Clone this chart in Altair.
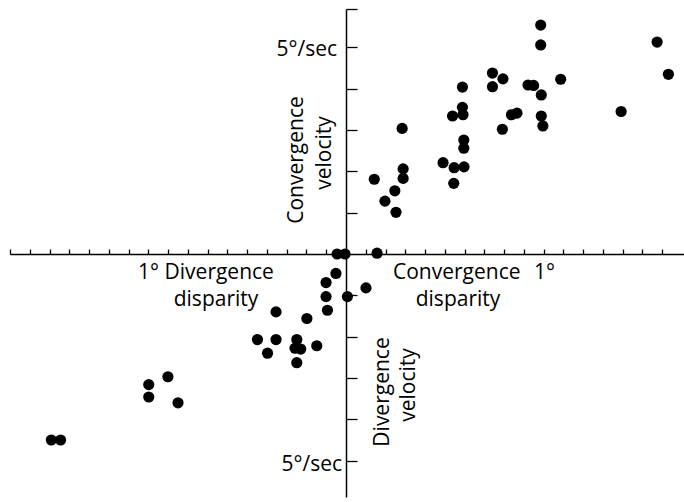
import altair as alt
import pandas as pd

# Disparity (degrees; + = convergence) and vergence velocity (deg/sec; + = convergence)
disparity = [
    0.985, 0.985, 1.574, 1.631, 0.741, 0.794, 1.086, 0.741, 0.589, 0.921,
    0.949, 0.988, 1.392, 0.837, 0.865, 0.589, 0.539, 0.592, 0.988, 0.996,
    0.791, 0.284, 0.596, 0.596, 0.491, 0.547, 0.597, 0.545, 0.289, 0.289,
    0.143, 0.247, 0.197, 0.253,
    -0.045, -0.005, 0.157,
    -0.051, -0.101, 0.101, -0.101, 0.007, -0.094, -0.354, -0.198, -0.448,
    -0.354, -0.249, -0.148, -0.397, -0.258, -0.229, -0.249, -0.901, -0.998,
    -0.998, -0.850, -1.491, -1.444,
]
velocity = [
    5.54, 5.06, 5.13, 4.35, 4.38, 4.24, 4.23, 4.05, 4.04, 4.09,
    4.08, 3.85, 3.45, 3.37, 3.41, 3.55, 3.34, 3.37, 3.34, 3.10,
    3.02, 3.04, 2.76, 2.56, 2.21, 2.09, 2.11, 1.71, 2.06, 1.83,
    1.81, 1.53, 1.28, 1.01,
    0.00, 0.00, 0.02,
    -0.47, -0.69, -0.82, -1.03, -1.03, -1.36, -1.40, -1.56, -2.07,
    -2.07, -2.07, -2.22, -2.40, -2.28, -2.30, -2.63, -2.97, -3.16,
    -3.46, -3.60, -4.50, -4.50,
]

x_ticks = [-1.7, -1.6, -1.5, -1.4, -1.3, -1.2, -1.1, -1.0, -0.9, -0.8, -0.7,
           -0.6, -0.5, -0.4, -0.3, -0.2, -0.1, 0.1, 0.2, 0.3, 0.4, 0.5, 0.6,
           0.7, 0.8, 0.9, 1.0, 1.1, 1.2, 1.3, 1.4, 1.5, 1.6]
y_ticks = [-5, -4, -3, -2, -1, 1, 2, 3, 4, 5, 5.93]

x_domain = [-1.70, 1.71]
y_domain = [-5.88, 5.93]

FONT = "Open Sans"
FS = 21

df = pd.DataFrame({"disparity": disparity, "velocity": velocity})

points = alt.Chart(df).mark_circle(size=125, color="black", opacity=1).encode(
    x=alt.X(
        "disparity:Q",
        scale=alt.Scale(domain=x_domain, nice=False, zero=False),
        axis=alt.Axis(orient="top", offset=-245, values=x_ticks, labels=False,
                      title=None, grid=False, tickSize=5, tickWidth=1.3,
                      tickColor="black", domainColor="black", domainWidth=1.5),
    ),
    y=alt.Y(
        "velocity:Q",
        scale=alt.Scale(domain=y_domain, nice=False, zero=False),
        axis=alt.Axis(orient="right", offset=-338, values=y_ticks, labels=False,
                      title=None, grid=False, tickSize=11, tickWidth=1.3,
                      tickColor="black", domainColor="black", domainWidth=1.5),
    ),
)


def label(text, x, y, align="center", baseline="alphabetic", angle=0):
    kw = dict(align=align, baseline=baseline, font=FONT, fontSize=FS, color="black")
    if angle:
        kw["angle"] = angle
    return alt.Chart(pd.DataFrame({"t": [text]})).mark_text(**kw).encode(
        text="t:N", x=alt.value(x), y=alt.value(y)
    )


labels = [
    label("5°/sec", 327, 41, align="right", baseline="middle"),
    label("Convergence", 287, 151, baseline="middle", angle=270),
    label("velocity", 315, 144, baseline="middle", angle=270),
    label("1° Divergence", 196, 270),
    label("disparity", 206, 297),
    label("Convergence", 383, 270, align="left"),
    label("1°", 524, 270, align="left"),
    label("disparity", 448, 297),
    label("Divergence", 373, 383, baseline="middle", angle=270),
    label("velocity", 399, 376, baseline="middle", angle=270),
    label("5°/sec", 332, 456, align="right", baseline="middle"),
]

chart = alt.layer(points, *labels).properties(
    width=674,
    height=488,
    padding={"left": 10, "top": 9, "right": 0, "bottom": 5},
    autosize=alt.AutoSizeParams(type="none"),
).configure(background="white", view=alt.ViewConfig(stroke=None))

chart.save("out.html", embed_options={"renderer": "svg", "actions": False})
